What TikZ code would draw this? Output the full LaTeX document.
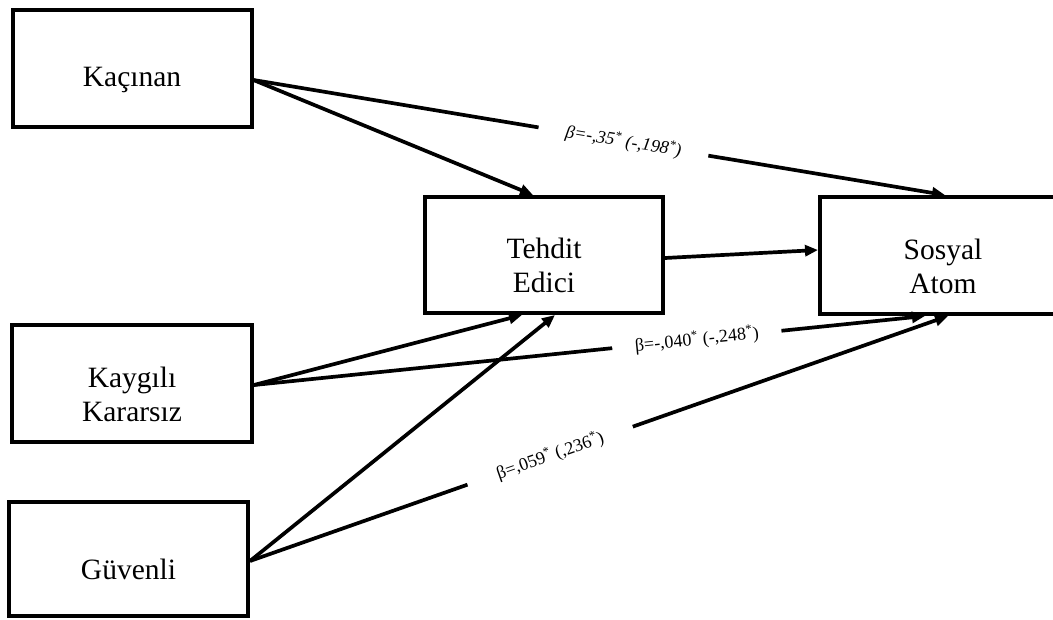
\documentclass[tikz,border=0pt]{standalone}
\usepackage{fontspec}
\setmainfont{Liberation Serif}
\usetikzlibrary{arrows.meta}
\newcommand{\lowtxt}{\rule{0pt}{42pt}}
\begin{document}
\begin{tikzpicture}[x=1pt,y=-1pt,
  box/.style={draw,line width=4pt,rectangle,align=center,inner sep=0pt,
    font=\fontsize{29.5}{34}\selectfont},
  arr/.style={line width=3.7pt,-{Triangle[length=13pt,width=11pt]}},
  lbl/.style={sloped,fill=white,inner sep=0pt,minimum height=14pt,minimum width=0pt,
    font=\fontsize{18}{20}\selectfont}]
\useasboundingbox (0,0) rectangle (1053,619);
\node[box,minimum width=239pt,minimum height=117pt] (kac) at (132,68.5) {\lowtxt Kaçınan};
\node[box,minimum width=240pt,minimum height=117pt] (kay) at (132,383.5) {\lowtxt Kaygılı\\Kararsız};
\node[box,minimum width=239pt,minimum height=114pt] (guv) at (128.5,559) {\lowtxt Güvenli};
\node[box,minimum width=238pt,minimum height=116pt] (teh) at (544,255) {\lowtxt Tehdit\\Edici};
\node[box,minimum width=246pt,minimum height=117pt] (sos) at (943,255.5) {\lowtxt Sosyal\\Atom};

\draw[arr] ([yshift=-11.5pt]kac.east) -- ([xshift=-11pt]teh.north);
\draw[arr] ([yshift=-11.5pt]kac.east) -- node[lbl,pos=0.535,minimum width=172pt]
  {\itshape β=-,35\textsuperscript{*} (-,198\textsuperscript{*})} ([xshift=2pt]sos.north);
\draw[arr] ([yshift=-3pt]teh.east) -- ([yshift=5.5pt]sos.west);
\draw[arr] ([yshift=-1.5pt]kay.east) -- ([xshift=-22pt]teh.south);
\draw[arr] ([yshift=-1.5pt]kay.east) -- node[lbl,pos=0.66,minimum width=170pt]
  {β=-,040\textsuperscript{*} (-,248\textsuperscript{*})} ([xshift=-18pt]sos.south);
\draw[arr] ([yshift=-2pt]guv.east) -- ([xshift=11pt]teh.south);
\draw[arr] ([yshift=-2pt]guv.east) -- node[lbl,pos=0.43,minimum width=175pt]
  {β=,059\textsuperscript{*} (,236\textsuperscript{*})} ([xshift=5pt]sos.south);
\end{tikzpicture}
\end{document}
